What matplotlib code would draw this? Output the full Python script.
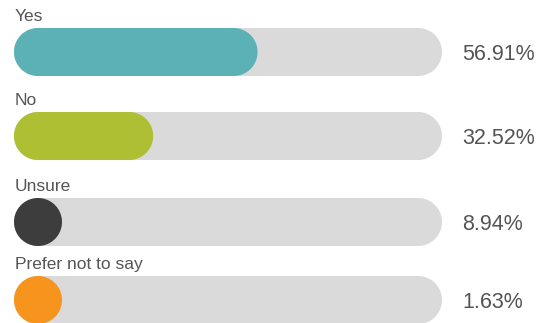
import matplotlib
matplotlib.use("Agg")
import numpy as np
import matplotlib.pyplot as plt
from matplotlib.patches import Polygon

answers = ["Yes", "No", "Unsure", "Prefer not to say"]
shares = [56.91, 32.52, 8.94, 1.63]
colors = ["#5bb1b5", "#afbf33", "#3d3d3d", "#f7941d"]

W, H = 544, 323
u = 4.28                     # pixels per data unit (track is 100 units = 428 px)
left_px = 14
row_px = [52, 136, 222, 300]  # bar centres, pixels from top
bar_px = 48

plt.rcParams["font.family"] = ["Liberation Sans", "DejaVu Sans"]

fig = plt.figure(figsize=(W / 100, H / 100), dpi=100)
ax = fig.add_axes([0, 0, 1, 1])
# same scale on both axes so the pill ends stay circular
ax.set_xlim(-left_px / u, (W - left_px) / u)
ax.set_ylim(H / u, 0)
ax.axis("off")

bar_h = bar_px / u


def pill(x0, width, yc, color):
    # stadium shape: two half circles joined by straight edges
    r = bar_h / 2
    width = max(width, bar_h)
    t = np.linspace(-np.pi / 2, np.pi / 2, 60)
    right = np.column_stack([x0 + width - r + r * np.cos(t), yc + r * np.sin(t)])
    left = np.column_stack([x0 + r - r * np.cos(t), yc - r * np.sin(t)])
    ax.add_patch(Polygon(np.vstack([right, left]), closed=True,
                         facecolor=color, edgecolor="none"))


for name, val, c, ypx in zip(answers, shares, colors, row_px):
    yc = ypx / u
    pill(0, 100, yc, "#dadada")
    pill(0, val, yc, c)
    ax.text(0.2, yc - bar_h / 2 - 7 / u, name, fontsize=12.5, color="#555555",
            ha="left", va="baseline")
    ax.text(104.7, yc + 2 / u, f"{val:.2f}%", fontsize=15.5, color="#555555",
            ha="left", va="center")

fig.savefig("out.png", dpi=100)
